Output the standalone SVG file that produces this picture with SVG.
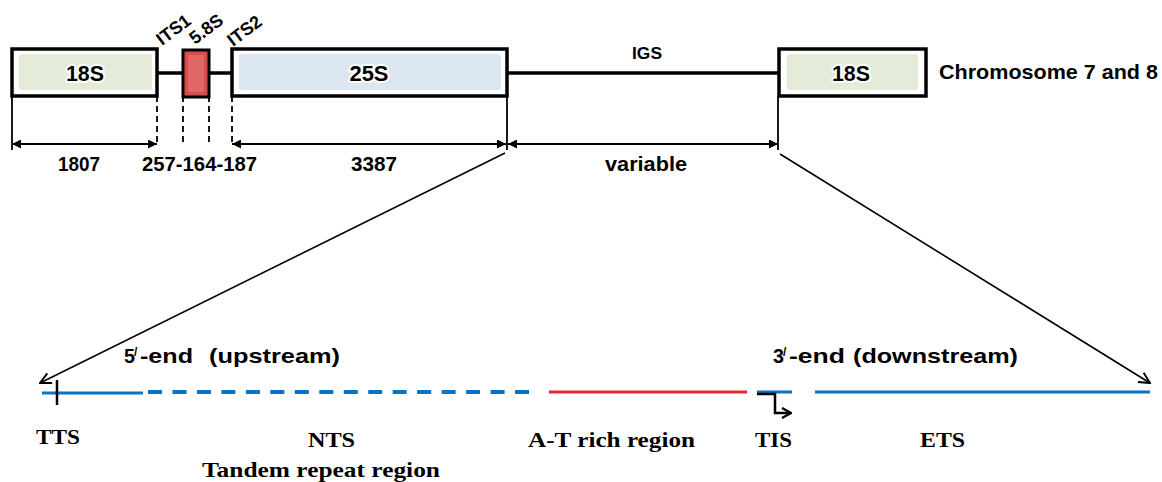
<svg xmlns="http://www.w3.org/2000/svg" width="1162" height="482" viewBox="0 0 1162 482">
  <style>
    .box { fill: #ffffff; stroke: #000000; stroke-width: 3.5; }
    .fill18 { fill: #e4ecd9; }
    .fill25 { fill: #dce6f1; }
    .bb { stroke: #000000; stroke-width: 3.5; fill: none; }
    .dim { stroke: #000000; stroke-width: 2; fill: none; }
    .tick { stroke: #000000; stroke-width: 1.8; fill: none; }
    .dash { stroke: #000000; stroke-width: 1.8; stroke-dasharray: 6 4; fill: none; }
    .diag { stroke: #000000; stroke-width: 1.6; fill: none; }
    .blue { stroke: #0a74c4; stroke-width: 3; fill: none; }
    .blued { stroke: #0a74c4; stroke-width: 4; stroke-dasharray: 14 10.47; fill: none; }
    .red { stroke: #e3262b; stroke-width: 3; fill: none; }
    .sans { font-family: "Liberation Sans", Arial, sans-serif; font-weight: bold; fill: #000000; }
    .serif { font-family: "Liberation Serif", "Times New Roman", serif; font-weight: bold; fill: #000000; }
    .halo { stroke: #ffffff; stroke-width: 4; paint-order: stroke; stroke-linejoin: round; }
  </style>
  <defs>
    <marker id="tri" viewBox="0 0 10 10" refX="10" refY="5" markerUnits="userSpaceOnUse" markerWidth="11" markerHeight="9" orient="auto-start-reverse">
      <path d="M0,0 L10,5 L0,10 z" fill="#000000"/>
    </marker>
    <marker id="open" viewBox="0 0 12 12" refX="11" refY="6" markerUnits="userSpaceOnUse" markerWidth="13" markerHeight="13" orient="auto">
      <path d="M1,1 L11,6 L1,11" fill="none" stroke="#000000" stroke-width="1.8"/>
    </marker>
    <marker id="openb" viewBox="0 0 12 12" refX="11" refY="6" markerUnits="userSpaceOnUse" markerWidth="12" markerHeight="12" orient="auto">
      <path d="M2,1 L11,6 L2,11" fill="none" stroke="#000000" stroke-width="2.4"/>
    </marker>
  </defs>

  <!-- rDNA repeat unit: backbone and genes -->
  <g id="backbone">
    <line class="bb" x1="157" y1="73" x2="183" y2="73"/>
    <line class="bb" x1="209" y1="73" x2="232" y2="73"/>
    <line class="bb" x1="507" y1="73" x2="779" y2="73"/>
  </g>

  <g id="gene-18S-left">
    <rect class="box" x="12" y="49" width="145" height="47"/>
    <rect class="fill18" x="19" y="54" width="133" height="36" rx="2"/>
    <text class="sans halo" x="85" y="81" font-size="22" text-anchor="middle" textLength="38" lengthAdjust="spacingAndGlyphs">18S</text>
  </g>

  <g id="gene-5-8S">
    <rect x="183" y="50" width="26" height="47" fill="#d94c4c" stroke="#000000" stroke-width="3"/>
    <rect x="188" y="55" width="16" height="37" fill="#e06868"/>
  </g>

  <g id="gene-25S">
    <rect class="box" x="232" y="49" width="275" height="47"/>
    <rect class="fill25" x="239" y="54" width="262" height="36" rx="2"/>
    <text class="sans halo" x="369" y="81" font-size="22" text-anchor="middle" textLength="39" lengthAdjust="spacingAndGlyphs">25S</text>
  </g>

  <g id="gene-18S-right">
    <rect class="box" x="779" y="49" width="147" height="47"/>
    <rect class="fill18" x="787" y="54" width="131" height="36" rx="2"/>
    <text class="sans halo" x="851" y="81" font-size="22" text-anchor="middle" textLength="38" lengthAdjust="spacingAndGlyphs">18S</text>
  </g>

  <g id="spacer-labels">
    <text class="sans" x="162" y="46" font-size="18" transform="rotate(-37 162 46)">ITS1</text>
    <text class="sans" x="195" y="45" font-size="18" transform="rotate(-37 195 45)">5.8S</text>
    <text class="sans" x="233" y="47" font-size="18" transform="rotate(-37 233 47)">ITS2</text>
    <text class="sans" x="647" y="59" font-size="17" text-anchor="middle" textLength="30" lengthAdjust="spacingAndGlyphs">IGS</text>
    <text class="sans" x="939" y="79" font-size="21" textLength="219" lengthAdjust="spacingAndGlyphs">Chromosome 7 and 8</text>
  </g>

  <!-- length scale -->
  <g id="dimensions">
    <line class="tick" x1="12" y1="96" x2="12" y2="150"/>
    <line class="tick" x1="507" y1="96" x2="507" y2="150"/>
    <line class="tick" x1="778" y1="96" x2="778" y2="150"/>
    <line class="dash" x1="157" y1="96" x2="157" y2="144"/>
    <line class="dash" x1="183" y1="96" x2="183" y2="144"/>
    <line class="dash" x1="209" y1="96" x2="209" y2="144"/>
    <line class="dash" x1="232" y1="96" x2="232" y2="144"/>
    <line class="dim" x1="12" y1="144" x2="157" y2="144" marker-start="url(#tri)" marker-end="url(#tri)"/>
    <line class="dim" x1="232" y1="144" x2="506" y2="144" marker-start="url(#tri)" marker-end="url(#tri)"/>
    <line class="dim" x1="508" y1="144" x2="778" y2="144" marker-start="url(#tri)" marker-end="url(#tri)"/>
    <text class="sans" x="79" y="171" font-size="21" text-anchor="middle" textLength="42" lengthAdjust="spacingAndGlyphs">1807</text>
    <text class="sans" x="199.5" y="171" font-size="21" text-anchor="middle" textLength="115" lengthAdjust="spacingAndGlyphs">257-164-187</text>
    <text class="sans" x="374" y="171" font-size="21" text-anchor="middle" textLength="46" lengthAdjust="spacingAndGlyphs">3387</text>
    <text class="sans" x="646" y="171" font-size="21" text-anchor="middle" textLength="82" lengthAdjust="spacingAndGlyphs">variable</text>
  </g>

  <!-- zoom lines from IGS to the expanded spacer -->
  <g id="connectors">
    <line class="diag" x1="505" y1="153" x2="40" y2="383" marker-end="url(#open)"/>
    <line class="diag" x1="780" y1="154" x2="1150" y2="383" marker-end="url(#open)"/>
  </g>

  <!-- expanded intergenic spacer -->
  <g id="igs-map">
    <line class="blue" x1="42" y1="393" x2="143" y2="393"/>
    <line class="blued" x1="148" y1="392" x2="530" y2="392"/>
    <line class="red" x1="549" y1="392" x2="747" y2="392"/>
    <line class="blue" x1="757" y1="392" x2="792" y2="392"/>
    <line class="blue" x1="815" y1="392" x2="1150" y2="392"/>
  </g>

  <g id="tts-mark">
    <line stroke="#000000" stroke-width="2.5" x1="57" y1="380" x2="57" y2="405"/>
    <text class="serif" x="58" y="444" font-size="22" text-anchor="middle" textLength="44" lengthAdjust="spacingAndGlyphs">TTS</text>
  </g>

  <g id="tis-mark">
    <polyline points="757,394 775,394 775,413 791,413" fill="none" stroke="#000000" stroke-width="2.5" marker-end="url(#openb)"/>
    <text class="serif" x="773.5" y="447" font-size="22" text-anchor="middle" textLength="37" lengthAdjust="spacingAndGlyphs">TIS</text>
  </g>

  <g id="region-labels">
    <text class="serif" x="331.5" y="447" font-size="22" text-anchor="middle" textLength="47" lengthAdjust="spacingAndGlyphs">NTS</text>
    <text class="serif" x="321" y="477" font-size="22" text-anchor="middle" textLength="238" lengthAdjust="spacingAndGlyphs">Tandem repeat region</text>
    <text class="serif" x="611.5" y="447" font-size="22" text-anchor="middle" textLength="167" lengthAdjust="spacingAndGlyphs">A-T rich region</text>
    <text class="serif" x="942.5" y="447" font-size="22" text-anchor="middle" textLength="45" lengthAdjust="spacingAndGlyphs">ETS</text>
  </g>

  <g id="end-labels">
    <text class="sans" x="124" y="363" font-size="21" textLength="11" lengthAdjust="spacingAndGlyphs">5</text>
    <text class="sans" x="134" y="356" font-size="12">/</text>
    <text class="sans" x="140" y="363" font-size="21" textLength="53" lengthAdjust="spacingAndGlyphs">-end</text>
    <text class="sans" x="209" y="363" font-size="21" textLength="131" lengthAdjust="spacingAndGlyphs">(upstream)</text>
    <text class="sans" x="773" y="363" font-size="21" textLength="11" lengthAdjust="spacingAndGlyphs">3</text>
    <text class="sans" x="783" y="356" font-size="12">/</text>
    <text class="sans" x="789" y="363" font-size="21" textLength="56" lengthAdjust="spacingAndGlyphs">-end</text>
    <text class="sans" x="853" y="363" font-size="21" textLength="165" lengthAdjust="spacingAndGlyphs">(downstream)</text>
  </g>
</svg>
